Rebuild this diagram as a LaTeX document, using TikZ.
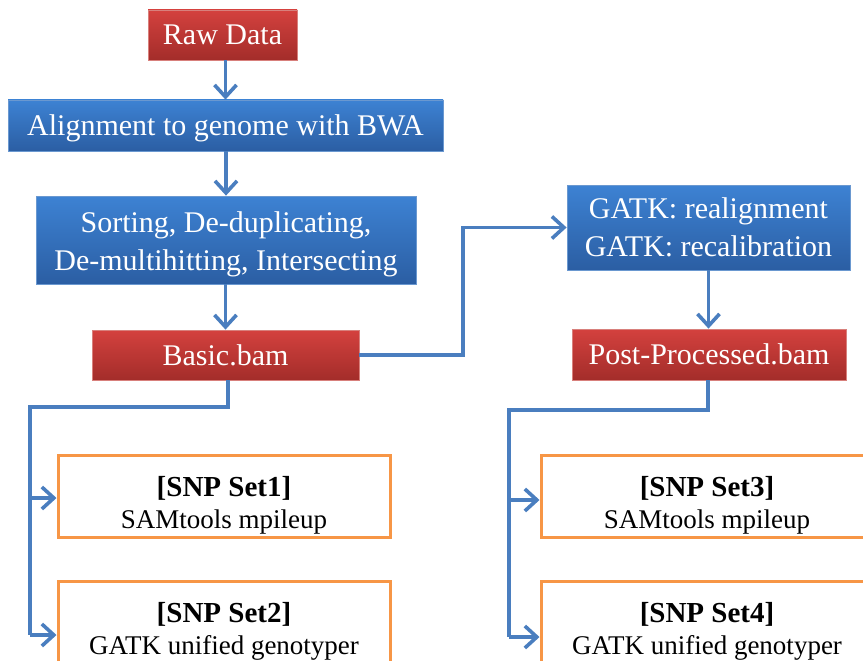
\documentclass[tikz,border=0pt]{standalone}
\usepackage{fontspec}
\setmainfont{Liberation Serif}
\usetikzlibrary{arrows.meta}
\definecolor{connc}{HTML}{4A7EBF}
\definecolor{redtop}{HTML}{D4413E}
\definecolor{redbot}{HTML}{A32D2A}
\definecolor{redline}{HTML}{D8807C}
\definecolor{bluetop}{HTML}{3D82D3}
\definecolor{bluebot}{HTML}{2B5EA3}
\definecolor{blueline}{HTML}{6A98D0}
\definecolor{orng}{HTML}{F79646}
\newcommand{\snptop}{\rule{0pt}{38pt}}
\newcommand{\snphead}[1]{{\fontsize{29}{32}\selectfont\textbf{#1}}}
\begin{document}
\begin{tikzpicture}[x=1pt,y=-1pt,
  redbox/.style={rectangle, draw=redline, line width=0.8pt, top color=redtop, bottom color=redbot, text=white, font=\fontsize{30}{37}\selectfont, inner sep=0pt, align=center},
  bluebox/.style={rectangle, draw=blueline, line width=0.8pt, top color=bluetop, bottom color=bluebot, text=white, font=\fontsize{30}{38}\selectfont, inner sep=0pt, align=center},
  snpbox/.style={rectangle, draw=orng, line width=3pt, fill=white, font=\fontsize{27}{32}\selectfont, align=center, minimum width=332pt, minimum height=82pt, inner sep=0pt},
  conn/.style={draw=connc, line width=3.6pt, -{Straight Barb[length=12pt,width=22pt,line width=3.6pt]}},
  plain/.style={draw=connc, line width=3.6pt}]
\useasboundingbox (0,0) rectangle (863,661);
\clip (0,0) rectangle (863,661);
\fill[white] (0,0) rectangle (863,661);

\node[redbox, minimum width=149pt, minimum height=50pt] (raw) at (222.5,35) {Raw Data};
\node[bluebox, minimum width=435pt, minimum height=51pt] (align) at (225.5,125.5) {\rule{0pt}{26pt}Alignment to genome with BWA};
\node[bluebox, minimum width=380pt, minimum height=88pt] (sort) at (226,240) {\rule{0pt}{30pt}Sorting, De-duplicating,\\De-multihitting, Intersecting};
\node[redbox, minimum width=267pt, minimum height=50pt] (basic) at (225.5,355) {Basic.bam};
\node[bluebox, minimum width=283pt, minimum height=85pt] (gatk) at (708.5,227.5) {GATK: realignment\\GATK: recalibration};
\node[redbox, minimum width=274pt, minimum height=51pt] (post) at (709,354.5) {Post-Processed.bam};

\node[snpbox] (snp1) at (224,496) {\snptop\snphead{[SNP Set1]}\\SAMtools mpileup};
\node[snpbox] (snp2) at (224,622) {\snptop\snphead{[SNP Set2]}\\GATK unified genotyper};
\node[snpbox] (snp3) at (707,496) {\snptop\snphead{[SNP Set3]}\\SAMtools mpileup};
\node[snpbox] (snp4) at (707,622) {\snptop\snphead{[SNP Set4]}\\GATK unified genotyper};

\coordinate (jl) at (30,407);
\coordinate (jr) at (509,410);
\coordinate (jm) at (463,355);

\draw[conn] (raw.south -| align.north) -- (align.north);
\draw[conn] (align.south -| sort.north) -- (sort.north);
\draw[conn] (sort.south -| basic.north) -- (basic.north);
\draw[conn] (basic.east) -- (jm) |- (gatk.west);
\draw[conn] (gatk.south) -- (gatk.south |- post.north);

\draw[plain] ([xshift=2.5pt]basic.south) |- (jl) -- (jl |- 0,635);
\draw[conn] (jl |- 0,498) -- (snp1.west |- 0,498);
\draw[conn] (jl |- 0,635) -- (snp2.west |- 0,635);

\draw[plain] (post.south -| 708,0) |- (jr) -- (jr |- 0,637);
\draw[conn] (jr |- 0,500) -- (snp3.west |- 0,500);
\draw[conn] (jr |- 0,637) -- (snp4.west |- 0,637);
\end{tikzpicture}
\end{document}
